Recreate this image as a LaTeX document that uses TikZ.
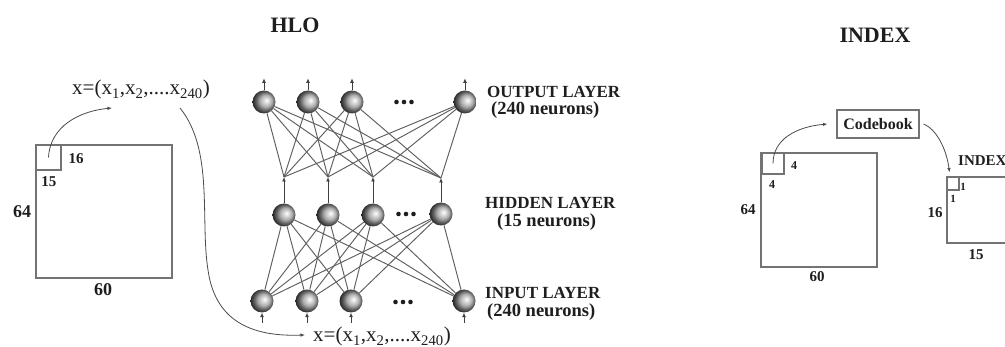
\documentclass[tikz,border=0pt]{standalone}
\usepackage{fontspec}
\setmainfont{Liberation Serif}
\usetikzlibrary{arrows.meta}
\definecolor{ink}{RGB}{30,30,30}
\definecolor{frame}{RGB}{115,115,115}
\definecolor{wire}{RGB}{95,95,95}
% glossy sphere used for every neuron
\pgfdeclareradialshading{neuronball}{\pgfpoint{6bp}{4bp}}{%
  color(0bp)=(white); color(5bp)=(gray!25); color(13bp)=(gray!65);
  color(20bp)=(black!62); color(27bp)=(black!85); color(40bp)=(black!90)}
\tikzset{
  neuron/.style={circle, minimum size=23pt, inner sep=0pt, shade, shading=neuronball},
  wires/.style={draw=wire, line width=0.95pt},
  tip/.style={-{Latex[length=4.5pt,width=4pt]}, draw=ink!85, line width=0.9pt},
  curvearrow/.style={-{Latex[length=4.5pt,width=3.5pt]}, draw=ink!80, line width=0.8pt},
  box/.style={draw=frame, line width=1.1pt, inner sep=0pt},
  title/.style={font=\fontsize{22}{24}\selectfont\bfseries, text=ink, inner sep=0pt},
  lay/.style={font=\fontsize{17}{19}\selectfont\bfseries, text=ink, inner sep=0pt, anchor=west},
  cnt/.style={font=\fontsize{18.5}{20}\selectfont\bfseries, text=ink, inner sep=0pt, anchor=west},
  vec/.style={font=\fontsize{21}{23}\selectfont, text=ink, inner sep=0pt},
  dimbig/.style={font=\fontsize{18}{20}\selectfont\bfseries, text=ink, inner sep=0pt},
  dimmid/.style={font=\fontsize{15}{17}\selectfont\bfseries, text=ink, inner sep=0pt},
  dimsmall/.style={font=\fontsize{12}{14}\selectfont\bfseries, text=ink, inner sep=0pt},
  dots/.style={minimum width=22pt, minimum height=6pt, inner sep=0pt,
    path picture={\fill[ink] (path picture bounding box.center) circle (2.3pt)
      ++(-7.5pt,0) circle (2.3pt) ++(15pt,0) circle (2.3pt);}}
}
\begin{document}
\begin{tikzpicture}[x=1pt,y=-1pt]
\useasboundingbox[fill=white] (0,0) rectangle (1005,347);

% ---------------- left: image split into blocks ----------------
\node[box, minimum width=136pt, minimum height=133pt] (img) at (104,211.5) {};
\node[box, minimum width=25pt, minimum height=25pt] (blk) at (48.5,157.5) {};
\node[dimmid] (d16) at (76,159) {16};
\node[dimmid] (d15) at (49,182) {15};
\node[dimbig] (d64) at (22,212) {64};
\node[dimbig] (d60) at (103,290) {60};
\node[vec, anchor=base] (xtop) at (141,95)
  {x=(x\textsubscript{1},x\textsubscript{2},....x\textsubscript{240})};
\coordinate (xin) at (112,108);
\coordinate (xout) at (180,108);
\draw[curvearrow] (blk.center) .. controls (50,126) and (80,111) .. (xin);

% ---------------- middle: network ----------------
\node[title] (hlo) at (295,25) {HLO};

% output layer
\node[neuron] (o1) at (264,102) {};
\node[neuron] (o2) at (308,102) {};
\node[neuron] (o3) at (352,102) {};
\node[dots] (od) at (404,102) {};
\node[neuron] (o5) at (465,102) {};

% hidden layer
\node[neuron] (h1) at (284,215) {};
\node[neuron] (h2) at (328,215) {};
\node[neuron] (h3) at (373,215) {};
\node[dots] (hd) at (406,214) {};
\node[neuron] (h5) at (441,214) {};

% input layer
\node[neuron] (i1) at (262,301) {};
\node[neuron] (i2) at (307,301) {};
\node[neuron] (i3) at (351,301) {};
\node[dots] (id) at (403,302) {};
\node[neuron] (i5) at (464,301) {};

% junctions above the hidden neurons
\coordinate (c1) at (284,177);
\coordinate (c2) at (328,177);
\coordinate (c3) at (373,177);
\coordinate (c4) at (441,178);

\foreach \o in {o1,o2,o3,o5}
  \foreach \c in {c1,c2,c3,c4}
    \draw[wires] (\o) -- (\c);
\foreach \h in {h1,h2,h3,h5}
  \foreach \i in {i1,i2,i3,i5}
    \draw[wires] (\h) -- (\i);
\foreach \h/\c in {h1/c1,h2/c2,h3/c3,h5/c4}
  \draw[tip] (\h.north) -- (\c);
\foreach \o in {o1,o2,o3,o5}
  \draw[tip] (\o.north) -- ++(0,-12);
\foreach \i in {i1,i2,i3,i5}
  \draw[tip, {Latex[length=4.5pt,width=4pt]}-] (\i.south) -- ++(0,10);

\node[lay] (outl) at (487,92) {OUTPUT LAYER};
\node[cnt] (outn) at (491,110) {(240 neurons)};
\node[lay] (hidl) at (485,203) {HIDDEN LAYER};
\node[cnt] (hidn) at (497,222) {(15 neurons)};
\node[lay] (inl) at (485,293) {INPUT LAYER};
\node[cnt] (inn) at (487,312) {(240 neurons)};

\node[vec, anchor=base west] (xbot) at (313,342)
  {x=(x\textsubscript{1},x\textsubscript{2},....x\textsubscript{240})};
\draw[curvearrow] (xout) .. controls (214,150) and (200,220) .. (208,270)
  .. controls (215,320) and (250,337) .. ([xshift=-8pt,yshift=2pt]xbot.west);

% ---------------- right: index coding ----------------
\node[title] (idx) at (875,35) {INDEX};
\node[box, minimum width=116pt, minimum height=114pt] (img2) at (819,210) {};
\node[box, minimum width=22pt, minimum height=21pt] (blk2) at (773,163.5) {};
\node[dimsmall] (r4a) at (794,166) {4};
\node[dimsmall] (r4b) at (772,185) {4};
\node[dimmid] (r64) at (748,210) {64};
\node[dimmid] (r60) at (817,277) {60};
\node[box, minimum width=82pt, minimum height=28pt,
      font=\fontsize{16}{18}\selectfont\bfseries, text=ink] (cb) at (878,124) {Codebook};
\draw[curvearrow] (blk2.center) .. controls (773,140) and (795,127) .. ([xshift=-9pt]cb.west);

\node[box, minimum width=64pt, minimum height=66pt] (ix) at (979,210) {};
\node[box, minimum width=12pt, minimum height=13pt] (ix1) at (953,183.5) {};
\node[font=\fontsize{11}{12}\selectfont\bfseries, text=ink, inner sep=0pt] (o1a) at (963,187) {1};
\node[font=\fontsize{11}{12}\selectfont\bfseries, text=ink, inner sep=0pt] (o1b) at (953,199) {1};
\node[dimmid] (r16) at (935,213) {16};
\node[dimmid] (r15) at (976,255) {15};
\node[font=\fontsize{15}{17}\selectfont\bfseries, text=ink, inner sep=0pt, anchor=west] (idx2) at (958,161) {INDEX};
\draw[curvearrow] ([xshift=4pt]cb.east) .. controls (938,130) and (947,152) .. ([xshift=3pt,yshift=4pt]ix1.north west);
\end{tikzpicture}
\end{document}
